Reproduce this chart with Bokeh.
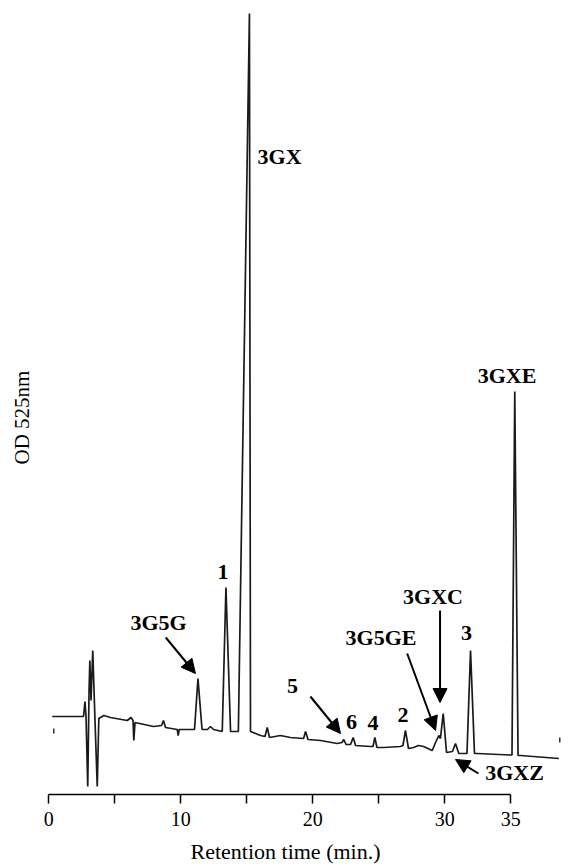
from bokeh.plotting import figure
from bokeh.models import Range1d, FixedTicker, Label, Arrow, NormalHead, ColumnDataSource
from bokeh.core.properties import value
from bokeh.embed import file_html
from bokeh.resources import INLINE
import math

# Chromatogram trace: retention time (min) and OD 525nm (arbitrary units)
trace_t = [0.26, 2.63, 2.74, 2.82, 2.95, 3.05, 3.11, 3.20, 3.33, 3.50, 3.67, 3.79, 4.17, 4.67,
           5.94, 6.23, 6.38, 6.44, 6.53, 7.93, 8.54, 8.69, 8.84, 9.73, 9.80, 9.88,
           11.04, 11.30, 11.61, 12.02, 12.25, 12.48, 13.14, 13.42, 13.77, 14.36, 15.20, 15.28,
           16.04, 16.38, 16.55, 16.72, 17.55, 18.30, 19.30, 19.45, 19.64, 20.58, 21.85,
           22.21, 22.35, 22.52, 22.86, 23.06, 23.24, 24.37, 24.56, 24.70, 24.86,
           25.38, 26.64, 26.83, 27.02, 27.25, 27.63, 28.01, 28.39, 29.05,
           29.30, 29.55, 29.67, 29.88, 30.13, 30.58, 30.81, 31.06,
           31.68, 31.95, 32.25, 32.45, 34.98, 35.09, 35.30, 35.55, 35.73, 38.64]
trace_y = [0.78, 0.78, 0.93, 0.78, 0.08, 1.04, 1.34, 0.94, 1.44, 0.74, 0.08, 0.76, 0.79, 0.77,
           0.74, 0.77, 0.74, 0.54, 0.72, 0.68, 0.69, 0.74, 0.67, 0.65, 0.59, 0.65,
           0.65, 1.16, 0.65, 0.65, 0.68, 0.65, 0.63, 2.07, 0.63, 0.63, 7.81, 0.63,
           0.59, 0.58, 0.67, 0.57, 0.59, 0.57, 0.56, 0.63, 0.55, 0.54, 0.51,
           0.52, 0.55, 0.50, 0.50, 0.57, 0.49, 0.48, 0.48, 0.57, 0.47,
           0.47, 0.48, 0.49, 0.64, 0.46, 0.47, 0.49, 0.48, 0.44,
           0.52, 0.59, 0.56, 0.81, 0.42, 0.43, 0.51, 0.41,
           0.41, 1.44, 0.41, 0.41, 0.395, 0.395, 4.03, 0.39, 0.39, 0.36]

# small injection / end marks
mark_t = [0.38, 38.71]
mark_y0 = [0.61, 0.52]
mark_y1 = [0.66, 0.57]

# peak labels
label_text = ["3GX", "3GXE", "1", "3G5G", "3GXC", "3G5GE", "3", "5", "6", "4", "2", "3GXZ"]
label_t = [17.48, 34.71, 13.20, 8.31, 29.11, 25.17, 31.64, 18.46, 22.93, 24.56, 26.83, 35.28]
label_y = [6.38, 4.19, 2.23, 1.72, 1.98, 1.57, 1.62, 1.09, 0.73, 0.72, 0.80, 0.22]

# arrows (tail -> tip)
arrow_t0 = [8.86, 19.82, 29.64, 27.15, 32.55]
arrow_y0 = [1.57, 0.98, 1.84, 1.41, 0.21]
arrow_t1 = [11.11, 22.10, 29.64, 29.30, 30.81]
arrow_y1 = [1.21, 0.61, 0.92, 0.64, 0.35]

x_ticks = [0, 5, 10, 15, 20, 25, 30, 35]
x_tick_labels = {5: "", 15: "", 25: ""}

p = figure(width=562, height=868, output_backend="svg", toolbar_location=None,
           x_range=Range1d(-3.053, 38.917), y_range=Range1d(0, 7.86),
           y_axis_location=None, min_border_left=8, min_border_right=0,
           min_border_top=8, min_border_bottom=74)
p.outline_line_color = None
p.xgrid.visible = False
p.ygrid.visible = False
p.background_fill_color = "white"

p.line(trace_t, trace_y, line_color="#1a1a1a", line_width=1.7)
p.segment(x0=mark_t, y0=mark_y0, x1=mark_t, y1=mark_y1, line_color="#333333", line_width=1.5)

src = ColumnDataSource(dict(x=label_t, y=label_y, t=label_text))
p.text(x="x", y="y", text="t", source=src, text_font=value("Liberation Serif"),
       text_font_style="bold", text_font_size="22px", text_align="center",
       text_baseline="middle", text_color="black")

for x0, y0, x1, y1 in zip(arrow_t0, arrow_y0, arrow_t1, arrow_y1):
    p.add_layout(Arrow(end=NormalHead(size=14, fill_color="black", line_color="black"),
                       x_start=x0, y_start=y0, x_end=x1, y_end=y1,
                       line_color="black", line_width=2))

p.add_layout(Label(x=-2.02, y=3.77, text="OD 525nm", angle=math.pi / 2,
                   text_font="Liberation Serif", text_font_size="21px",
                   text_align="center", text_baseline="middle", text_color="black"))

ax = p.xaxis[0]
ax.ticker = FixedTicker(ticks=x_ticks, minor_ticks=[])
ax.major_label_overrides = x_tick_labels
ax.bounds = (0, 35)
ax.axis_line_color = "black"
ax.axis_line_width = 1.5
ax.major_tick_line_color = "black"
ax.major_tick_line_width = 1.5
ax.major_tick_out = 9
ax.major_tick_in = 0
ax.minor_tick_line_color = None
ax.major_label_standoff = 8
ax.major_label_text_font = "Liberation Serif"
ax.major_label_text_font_size = "20px"
ax.major_label_text_color = "black"
ax.axis_label = "Retention time (min.)"
ax.axis_label_standoff = 10
ax.axis_label_text_font = "Liberation Serif"
ax.axis_label_text_font_size = "22px"
ax.axis_label_text_font_style = "normal"
ax.axis_label_text_color = "black"

open("out.html", "w").write(file_html(p, INLINE))
